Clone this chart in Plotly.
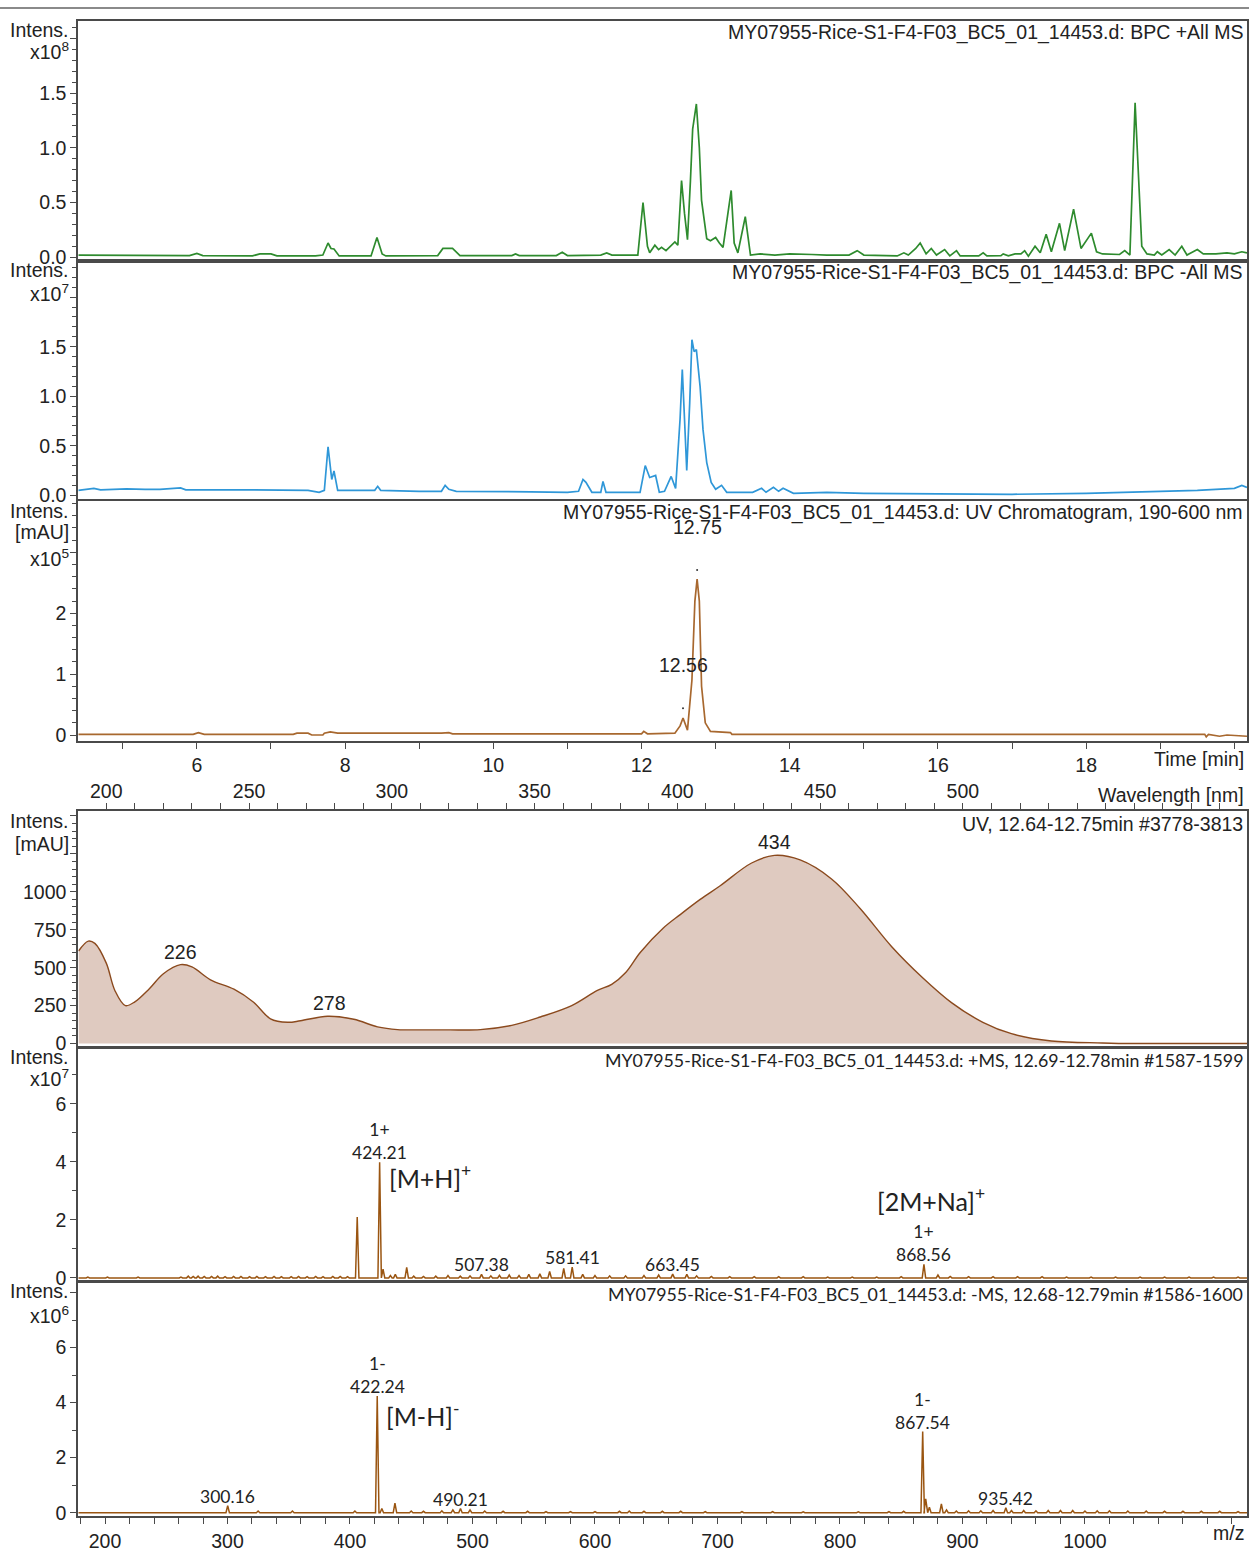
import plotly.graph_objects as go

W, H = 1249, 1552

# ---------------- DATA ----------------
# BPC +All MS (x1e8)
bpcp_t = [4.40, 4.8, 5.0, 5.5, 5.9, 6.0, 6.08, 6.75, 6.85, 7.0, 7.08, 7.6, 7.70, 7.77, 7.81, 7.85, 7.92,
          8.35, 8.43, 8.50, 8.55, 9.25, 9.32, 9.45, 9.55, 10.25, 10.3, 10.35, 10.85, 10.93, 11.0, 11.45,
          11.53, 11.6, 11.95, 12.02, 12.08, 12.11, 12.18, 12.23, 12.27, 12.33, 12.40, 12.45, 12.49, 12.54,
          12.58, 12.62, 12.66, 12.69, 12.74, 12.78, 12.81, 12.88, 12.93, 13.0, 13.05, 13.1, 13.21, 13.25,
          13.3, 13.40, 13.47, 13.6, 13.8, 14.0, 14.3, 14.5, 14.8, 14.91, 15.0, 15.45, 15.54, 15.6, 15.7,
          15.76, 15.84, 15.91, 15.98, 16.09, 16.16, 16.25, 16.3, 16.55, 16.61, 16.66, 16.85, 16.88, 16.95,
          17.04, 17.12, 17.17, 17.22, 17.31, 17.38, 17.46, 17.53, 17.64, 17.71, 17.83, 17.93, 18.07, 18.14,
          18.22, 18.45, 18.52, 18.59, 18.66, 18.75, 18.82, 18.92, 18.96, 19.02, 19.12, 19.2, 19.29, 19.36,
          19.5, 19.58, 19.75, 19.9, 20.0, 20.1, 20.17]
bpcp_i = [0.02, 0.02, 0.015, 0.02, 0.015, 0.035, 0.015, 0.012, 0.03, 0.03, 0.012, 0.012, 0.02, 0.13, 0.08,
          0.075, 0.012, 0.012, 0.18, 0.03, 0.012, 0.015, 0.08, 0.08, 0.015, 0.015, 0.03, 0.015, 0.015,
          0.045, 0.015, 0.02, 0.04, 0.02, 0.02, 0.50, 0.10, 0.04, 0.11, 0.07, 0.09, 0.06, 0.11, 0.14, 0.11,
          0.70, 0.40, 0.16, 0.70, 1.17, 1.40, 1.00, 0.52, 0.17, 0.15, 0.18, 0.13, 0.09, 0.61, 0.13, 0.04,
          0.37, 0.02, 0.03, 0.02, 0.03, 0.025, 0.02, 0.02, 0.06, 0.02, 0.012, 0.04, 0.02, 0.08, 0.13, 0.03,
          0.08, 0.02, 0.07, 0.012, 0.06, 0.012, 0.012, 0.04, 0.012, 0.015, 0.03, 0.012, 0.03, 0.03, 0.06,
          0.01, 0.10, 0.04, 0.21, 0.05, 0.31, 0.06, 0.44, 0.08, 0.22, 0.05, 0.03, 0.025, 0.06, 0.02, 1.41,
          0.10, 0.03, 0.02, 0.05, 0.02, 0.07, 0.02, 0.10, 0.02, 0.07, 0.03, 0.03, 0.04, 0.03, 0.05, 0.04]

# BPC -All MS (x1e7)
bpcm_t = [4.40, 4.55, 4.61, 4.7, 5.0, 5.05, 5.3, 5.5, 5.78, 5.85, 6.5, 7.0, 7.5, 7.65, 7.72, 7.77, 7.82,
          7.85, 7.9, 8.2, 8.4, 8.44, 8.48, 9.0, 9.3, 9.35, 9.4, 9.5, 10.0, 10.5, 11.0, 11.15, 11.21, 11.25,
          11.33, 11.45, 11.48, 11.52, 11.98, 12.05, 12.11, 12.19, 12.24, 12.31, 12.40, 12.46, 12.52, 12.55,
          12.58, 12.61, 12.65, 12.68, 12.71, 12.74, 12.79, 12.83, 12.88, 12.94, 13.0, 13.08, 13.15, 13.5,
          13.62, 13.68, 13.78, 13.85, 13.91, 14.05, 14.5, 15.0, 16.0, 17.0, 18.0, 18.5, 19.0, 19.5, 20.0,
          20.1, 20.17]
bpcm_i = [0.05, 0.06, 0.07, 0.055, 0.06, 0.065, 0.06, 0.06, 0.075, 0.055, 0.055, 0.055, 0.05, 0.03, 0.05,
          0.49, 0.16, 0.245, 0.05, 0.05, 0.05, 0.09, 0.05, 0.04, 0.04, 0.10, 0.06, 0.04, 0.04, 0.035, 0.03,
          0.04, 0.16, 0.13, 0.03, 0.03, 0.14, 0.03, 0.03, 0.30, 0.18, 0.20, 0.03, 0.04, 0.19, 0.07, 0.77,
          1.27, 0.77, 0.25, 0.93, 1.57, 1.45, 1.47, 1.10, 0.66, 0.33, 0.13, 0.06, 0.10, 0.03, 0.03, 0.07,
          0.03, 0.08, 0.04, 0.07, 0.02, 0.03, 0.02, 0.015, 0.01, 0.02, 0.03, 0.04, 0.05, 0.07, 0.10, 0.08]

# UV chromatogram 190-600 nm (x1e5 mAU)
uvc_t = [4.40, 5.95, 6.02, 6.1, 7.3, 7.35, 7.5, 7.55, 7.7, 7.72, 7.8, 7.85, 7.9, 9.3, 9.4, 9.45, 12.0,
         12.03, 12.08, 12.45, 12.52, 12.56, 12.62, 12.68, 12.72, 12.75, 12.78, 12.81, 12.86, 12.93, 13.2,
         13.22, 19.6, 19.62, 19.65, 19.8, 19.9, 20.17]
uvc_i = [0.01, 0.01, 0.04, 0.01, 0.01, 0.03, 0.03, 0.0, 0.0, 0.03, 0.05, 0.04, 0.03, 0.03, 0.04, 0.02,
         0.02, 0.06, 0.02, 0.03, 0.15, 0.28, 0.08, 0.90, 2.20, 2.56, 2.20, 0.80, 0.20, 0.06, 0.04, 0.01,
         0.01, -0.03, 0.01, -0.02, 0.0, -0.02]
uvc_peak_t = [12.75, 12.56]
uvc_peak_i = [2.71, 0.44]
uvc_peak_lbl = ["12.75", "12.56"]

# UV spectrum (mAU)
uv_wl = [190.3, 193.7, 196, 200, 203, 206.7, 210, 215, 220, 226, 230, 236.5, 244.7, 251.6, 257.5, 263.5,
         268, 277.5, 286.7, 295, 302, 310, 320, 331, 342, 352, 363, 372, 377, 382, 387, 395, 401, 408,
         415, 426, 434, 443, 454, 464, 475, 486, 496, 507, 517, 531, 549, 560, 600]
uv_ab = [610, 675, 660, 530, 350, 250, 275, 360, 460, 520, 505, 420, 358, 272, 163, 140, 150, 180, 160,
         110, 92, 90, 90, 92, 120, 175, 250, 350, 390, 470, 600, 760, 850, 950, 1040, 1190, 1240, 1210,
         1085, 890, 640, 432, 270, 140, 65, 17, 4, 0, 0]
uv_lbl_wl = [226, 278, 434]
uv_lbl_ab = [520, 180, 1240]

# +MS spectrum (x1e7)
pos_mz = [186, 202, 214, 227, 262, 268, 272, 276, 281, 287, 292, 298, 305, 311, 318, 324, 331, 338, 344,
          352, 358, 365, 372, 378, 386, 392, 398, 405.9, 424.21, 427, 433, 437, 446.3, 452, 460, 470, 480,
          490, 498, 507.38, 515, 522, 530, 538, 546, 555, 563, 574.5, 581.41, 590, 600, 612, 625, 640, 652,
          663.45, 675, 683, 695, 710, 730, 750, 770, 790, 810, 830, 850, 868.56, 880, 890, 905, 925, 945,
          965, 985, 1005, 1025, 1045, 1065, 1085, 1105, 1125]
pos_int = [0.03, 0.03, 0.02, 0.03, 0.03, 0.06, 0.05, 0.06, 0.05, 0.05, 0.06, 0.04, 0.05, 0.05, 0.04, 0.05,
           0.04, 0.05, 0.04, 0.04, 0.05, 0.04, 0.05, 0.04, 0.05, 0.05, 0.04, 2.10, 3.98, 0.30, 0.08, 0.12,
           0.36, 0.06, 0.05, 0.06, 0.08, 0.06, 0.07, 0.12, 0.07, 0.09, 0.10, 0.08, 0.12, 0.14, 0.22, 0.33,
           0.37, 0.12, 0.08, 0.07, 0.07, 0.08, 0.10, 0.13, 0.12, 0.07, 0.05, 0.04, 0.04, 0.04, 0.04, 0.03,
           0.03, 0.03, 0.04, 0.47, 0.10, 0.05, 0.04, 0.04, 0.04, 0.04, 0.03, 0.03, 0.03, 0.03, 0.03, 0.03,
           0.03, 0.03]
pos_lbl_mz = [424.21, 507.38, 581.41, 663.45, 868.56]
pos_lbl_int = [3.98, 0.12, 0.37, 0.13, 0.47]
pos_lbl_txt = ["1+<br>424.21", "507.38", "581.41", "663.45", "1+<br>868.56"]

# -MS spectrum (x1e6)
neg_mz = [300.16, 325, 353, 404, 422.24, 426, 436.7, 450, 460, 475, 484, 490.21, 498, 510, 525, 545, 560,
          580, 600, 620, 628, 640, 655, 670, 690, 720, 745, 770, 815, 840, 852, 867.54, 870, 873, 882.8,
          887, 895, 905, 915, 925, 935.42, 940, 950, 960, 970, 980, 990, 1000, 1010, 1020, 1035, 1050, 1065,
          1080, 1095, 1110, 1125]
neg_int = [0.26, 0.06, 0.06, 0.06, 4.24, 0.15, 0.35, 0.06, 0.05, 0.07, 0.10, 0.15, 0.10, 0.06, 0.05, 0.05,
           0.04, 0.04, 0.04, 0.05, 0.06, 0.05, 0.05, 0.05, 0.04, 0.04, 0.04, 0.03, 0.03, 0.04, 0.05, 2.95,
           0.50, 0.20, 0.32, 0.10, 0.06, 0.07, 0.07, 0.08, 0.18, 0.08, 0.08, 0.07, 0.08, 0.08, 0.08, 0.06,
           0.07, 0.07, 0.06, 0.06, 0.05, 0.05, 0.05, 0.05, 0.04]
neg_lbl_mz = [300.16, 422.24, 490.21, 867.54, 935.42]
neg_lbl_int = [0.26, 4.24, 0.15, 2.95, 0.18]
neg_lbl_txt = ["300.16", "1-<br>422.24", "490.21", "1-<br>867.54", "935.42"]

time_ticks = [6, 8, 10, 12, 14, 16, 18]
wl_ticks = [200, 250, 300, 350, 400, 450, 500]
mz_ticks = [200, 300, 400, 500, 600, 700, 800, 900, 1000]

FILE = "MY07955-Rice-S1-F4-F03_BC5_01_14453.d"
titles = [FILE + ": BPC +All MS", FILE + ": BPC -All MS", FILE + ": UV Chromatogram, 190-600 nm",
          "UV, 12.64-12.75min #3778-3813", FILE + ": +MS, 12.69-12.78min #1587-1599",
          FILE + ": -MS, 12.68-12.79min #1586-1600"]

# ---------------- helpers ----------------
def stick(mz, inten, hw, lo, hi):
    pts = sorted(zip(mz, inten))
    xs, ys = [lo], [0]
    for m, v in pts:
        xs += [m - hw, m, m + hw]
        ys += [0, v, 0]
    xs.append(hi); ys.append(0)
    return xs, ys

def px(x):
    return x / W

def py(y):
    return 1 - y / H

def ydom(top, bot):
    return [1 - bot / H, 1 - top / H]

XDOM = [78.3 / W, 1247 / W]
AX = "#4a4a4a"
TXT = "#222222"
FONT = "Liberation Sans, Arial, sans-serif"
MSFONT = "Lato, Open Sans, sans-serif"
FS = 19.5

fig = go.Figure()

fig.add_trace(go.Scatter(x=bpcp_t, y=bpcp_i, mode="lines", line=dict(color="#2e8b2e", width=1.7),
                         xaxis="x", yaxis="y", showlegend=False))
fig.add_trace(go.Scatter(x=bpcm_t, y=bpcm_i, mode="lines", line=dict(color="#2f97d8", width=1.7),
                         xaxis="x2", yaxis="y2", showlegend=False))
fig.add_trace(go.Scatter(x=uvc_t, y=uvc_i, mode="lines", line=dict(color="#a8682f", width=1.7),
                         xaxis="x3", yaxis="y3", showlegend=False))
fig.add_trace(go.Scatter(x=uvc_peak_t, y=uvc_peak_i, mode="markers", marker=dict(color="#333", size=2),
                         xaxis="x3", yaxis="y3", showlegend=False))
fig.add_trace(go.Scatter(x=uv_wl, y=uv_ab, mode="lines", line=dict(color="#8b4a1e", width=1.4, shape="spline"),
                         fill="tozeroy", fillcolor="#dfcac0", xaxis="x4", yaxis="y4", showlegend=False))
mx, my = stick(pos_mz, pos_int, 1.4, 178.2, 1132.3)
fig.add_trace(go.Scatter(x=mx, y=my, mode="lines", line=dict(color="#9a5511", width=1.5),
                         xaxis="x5", yaxis="y5", showlegend=False))
nx, ny = stick(neg_mz, neg_int, 1.4, 178.2, 1132.3)
fig.add_trace(go.Scatter(x=nx, y=ny, mode="lines", line=dict(color="#9a5511", width=1.5),
                         xaxis="x6", yaxis="y6", showlegend=False))

tickfont = dict(family=FONT, size=FS, color=TXT)

def xax(dom_anchor, rng, **kw):
    d = dict(domain=XDOM, anchor=dom_anchor, range=rng, showline=True, linecolor=AX, linewidth=2,
             mirror=True, showgrid=False, zeroline=False, tickfont=tickfont, ticks="", showticklabels=False)
    d.update(kw)
    return d

def yax(anchor, dom, rng, dtick, minor, alias=None, fmt=None):
    d = dict(domain=dom, anchor=anchor, range=rng, showline=True, linecolor=AX, linewidth=2, mirror=True,
             showgrid=False, zeroline=False, tickfont=tickfont, ticks="outside", ticklen=6, tickcolor=AX,
             tickmode="linear", tick0=0, dtick=dtick,
             minor=dict(ticks="outside", ticklen=4, dtick=minor, tick0=0, tickcolor=AX))
    if fmt:
        d["tickformat"] = fmt
    if alias:
        d["labelalias"] = alias
    return d

TR = [4.40, 20.17]
time_kw = dict(showticklabels=True, ticks="outside", ticklen=6, tickcolor=AX, tickmode="array",
               tickvals=time_ticks, minor=dict(ticks="outside", ticklen=6, dtick=1, tick0=0, tickcolor=AX))

layout = dict(
    width=W, height=H, margin=dict(l=0, r=0, t=0, b=0),
    paper_bgcolor="white", plot_bgcolor="white", showlegend=False,
    xaxis=xax("y", TR),
    xaxis2=xax("y2", TR),
    xaxis3=xax("y3", TR, **time_kw),
    xaxis4=xax("y4", [190.2, 599.5], side="top", showticklabels=True, ticks="outside", ticklen=6,
               tickcolor=AX, tickmode="array", tickvals=wl_ticks, ticklabelstandoff=-3,
               minor=dict(ticks="outside", ticklen=6, dtick=10, tick0=0, tickcolor=AX)),
    xaxis5=xax("y5", [178.2, 1132.3]),
    xaxis6=xax("y6", [178.2, 1132.3], showticklabels=True, ticks="outside", ticklen=6, tickcolor=AX,
               tickmode="array", tickvals=mz_ticks,
               minor=dict(ticks="outside", ticklen=6, dtick=20, tick0=0, tickcolor=AX)),
    yaxis=yax("x", ydom(15, 258), [-0.03, 2.16], 0.5, 0.1, {"2.0": " "}, ".1f"),
    yaxis2=yax("x2", ydom(259, 500), [-0.04, 2.36], 0.5, 0.1, {"2.0": " "}, ".1f"),
    yaxis3=yax("x3", ydom(502, 745), [-0.097, 3.84], 1, 0.2, {"3": " "}),
    yaxis4=yax("x4", ydom(816, 1055), [-21, 1533], 250, 50, {"1250": " ", "1500": " "}),
    yaxis5=yax("x5", ydom(1056, 1292), [-0.09, 7.93], 2, 1),
    yaxis6=yax("x6", ydom(1293, 1531), [-0.13, 8.4], 2, 1, {"8": " "}),
)
fig.update_layout(**layout)

ann = []
# panel titles
title_y = [27, 270, 513, 829, 1068, 1306]
for i, (t, yy) in enumerate(zip(titles, title_y)):
    f = MSFONT if i >= 4 else FONT
    s = 17.8 if i >= 4 else FS
    ann.append(dict(text=t, xref="paper", yref="paper", x=px(1245), y=py(yy), xanchor="right",
                    yanchor="middle", showarrow=False, font=dict(family=f, size=s, color=TXT)))
# y axis labels
ylabels = [("Intens.", 24), ("x10<sup>8</sup>", 46),
           ("Intens.", 268), ("x10<sup>7</sup>", 291),
           ("Intens.", 512), ("[mAU]", 533), ("x10<sup>5</sup>", 560),
           ("Intens.", 826), ("[mAU]", 849),
           ("Intens.", 1065), ("x10<sup>7</sup>", 1087),
           ("Intens.", 1303), ("x10<sup>6</sup>", 1327)]
for t, yy in ylabels:
    ann.append(dict(text=t, xref="paper", yref="paper", x=px(71), y=py(yy), xanchor="right", yanchor="middle",
                    showarrow=False, font=dict(family=FONT, size=FS, color=TXT)))
# axis titles
for t, yy in [("Time [min]", 763), ("Wavelength [nm]", 800), ("m/z", 1548)]:
    ann.append(dict(text=t, xref="paper", yref="paper", x=px(1246), y=py(yy), xanchor="right",
                    yanchor="middle", showarrow=False, font=dict(family=FONT, size=FS, color=TXT)))
# UV chromatogram peak labels
for t, v, l in zip(uvc_peak_t, uvc_peak_i, uvc_peak_lbl):
    ann.append(dict(text=l, x=t, y=v, xref="x3", yref="y3", xanchor="center", yanchor="bottom", yshift=30,
                    showarrow=False, font=dict(family=FONT, size=FS, color=TXT)))
# UV spectrum labels
for w, a in zip(uv_lbl_wl, uv_lbl_ab):
    ann.append(dict(text=str(w), x=w, y=a, xref="x4", yref="y4", xanchor="center", yanchor="bottom", yshift=0,
                    showarrow=False, font=dict(family=FONT, size=FS, color=TXT)))
# MS labels
for m, v, t in zip(pos_lbl_mz, pos_lbl_int, pos_lbl_txt):
    ann.append(dict(text=t, x=m, y=v, xref="x5", yref="y5", xanchor="center", yanchor="bottom", yshift=-3,
                    showarrow=False, font=dict(family=MSFONT, size=17.5, color=TXT)))
for m, v, t in zip(neg_lbl_mz, neg_lbl_int, neg_lbl_txt):
    ann.append(dict(text=t, x=m, y=v, xref="x6", yref="y6", xanchor="center", yanchor="bottom", yshift=-3,
                    showarrow=False, font=dict(family=MSFONT, size=17.5, color=TXT)))
ann.append(dict(text="[M+H]<sup>+</sup>", x=430, y=3.5, xref="x5", yref="y5", xanchor="left",
                yanchor="middle", showarrow=False, font=dict(family=MSFONT, size=25, color=TXT)))
ann.append(dict(text="[2M+Na]<sup>+</sup>", x=874, y=2.7, xref="x5", yref="y5", xanchor="center",
                yanchor="middle", showarrow=False, font=dict(family=MSFONT, size=25, color=TXT)))
ann.append(dict(text="[M-H]<sup>-</sup>", x=428, y=3.55, xref="x6", yref="y6", xanchor="left",
                yanchor="middle", showarrow=False, font=dict(family=MSFONT, size=25, color=TXT)))

fig.update_layout(annotations=ann,
                  shapes=[dict(type="line", xref="paper", yref="paper", x0=0, x1=1, y0=py(2), y1=py(2),
                               line=dict(color="#8a8a8a", width=2))])

fig.write_html("out.html")
